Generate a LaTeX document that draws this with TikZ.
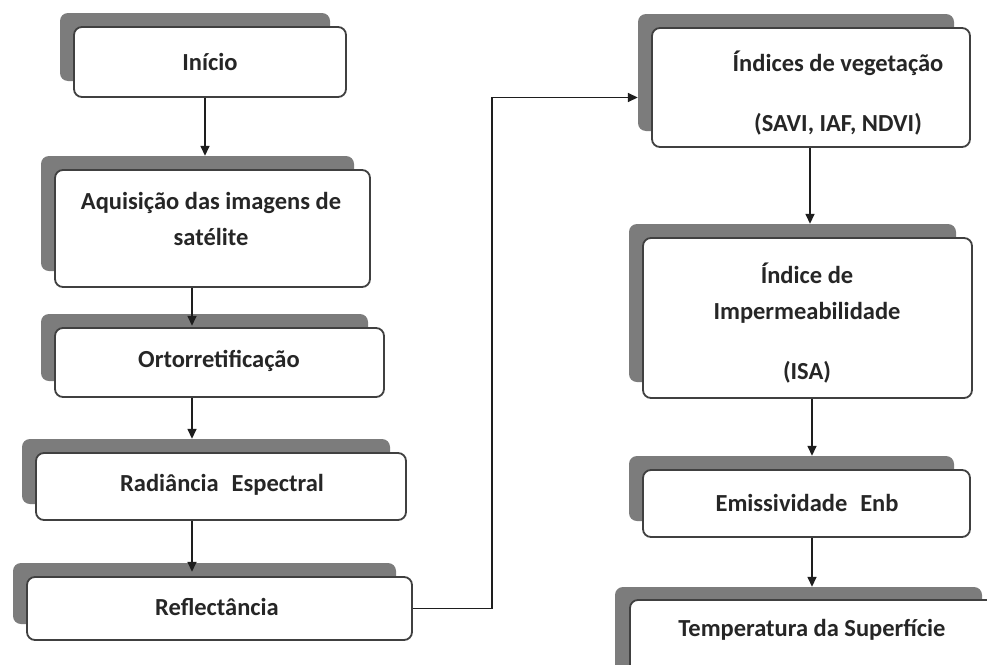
\documentclass[tikz,border=0pt]{standalone}
\usepackage{fontspec}
\setmainfont{Carlito}
\usetikzlibrary{arrows.meta,calc}
\definecolor{bordc}{HTML}{404040}
\definecolor{shadc}{HTML}{7C7C7C}
\definecolor{txtc}{HTML}{262626}
\definecolor{linec}{HTML}{1E1E1E}
\begin{document}
\begin{tikzpicture}[x=1pt,y=-1pt,
  wbox/.style={rectangle,draw=bordc,line width=1.8pt,fill=white,rounded corners=8pt,inner sep=0pt},
  sbox/.style={rectangle,fill=shadc,rounded corners=8pt,inner sep=0pt},
  lbl/.style={text=txtc,font=\fontsize{24.5}{36}\selectfont\bfseries,align=center,inner sep=0pt},
  arr/.style={draw=linec,line width=1.5pt,-{Triangle[length=10pt,width=9pt]}}]
\useasboundingbox (0,0) rectangle (987,664);
\clip (0,0) rectangle (987,664);
\fill[white] (0,0) rectangle (987,664);
% shadows
\node[sbox,minimum width=270pt,minimum height=68pt] (s1) at (195,47) {};
\node[sbox,minimum width=313pt,minimum height=115pt] (s2) at (197.5,213.5) {};
\node[sbox,minimum width=327pt,minimum height=67pt] (s3) at (204.5,347.5) {};
\node[sbox,minimum width=368pt,minimum height=65pt] (s4) at (206,471.5) {};
\node[sbox,minimum width=383pt,minimum height=61pt] (s5) at (204.5,593.5) {};
\node[sbox,minimum width=316pt,minimum height=117pt] (s6) at (796,72.5) {};
\node[sbox,minimum width=327pt,minimum height=158pt] (s7) at (792.5,303) {};
\node[sbox,minimum width=325pt,minimum height=65pt] (s8) at (791.5,488.5) {};
\node[sbox,minimum width=367pt,minimum height=88pt] (s9) at (798.5,631) {};
% boxes
\node[wbox,minimum width=272pt,minimum height=70pt] (b1) at (210,62) {};
\node[wbox,minimum width=315pt,minimum height=117pt] (b2) at (212.5,228.5) {};
\node[wbox,minimum width=329pt,minimum height=69pt] (b3) at (219.5,362.5) {};
\node[wbox,minimum width=370pt,minimum height=67pt] (b4) at (221,486.5) {};
\node[wbox,minimum width=385pt,minimum height=63pt] (b5) at (219.5,608.5) {};
\node[wbox,minimum width=318pt,minimum height=119pt] (b6) at (811,87.5) {};
\node[wbox,minimum width=329pt,minimum height=160pt] (b7) at (807.5,318) {};
\node[wbox,minimum width=327pt,minimum height=67pt] (b8) at (806.5,503.5) {};
\node[wbox,minimum width=380pt,minimum height=90pt] (b9) at (820,645) {};
% texts
\node[lbl] (t1) at (210,62) {Início};
\node[lbl] (t2) at (211,219) {Aquisição das imagens de\\satélite};
\node[lbl] (t3) at (219,361) {Ortorretificação};
\node[lbl] (t4) at (222,485) {Radiância\hspace{0.3em} Espectral};
\node[lbl] (t5) at (217,607) {Reflectância};
\node[lbl] (t6) at (838,93) {Índices de vegetação\\[24pt](SAVI, IAF, NDVI)};
\node[lbl] (t7) at (807,323) {Índice de\\Impermeabilidade\\[24pt](ISA)};
\node[lbl] (t8) at (807,503) {Emissividade\hspace{0.3em} Enb};
\node[lbl] (t9) at (812,630) {Temperatura da Superfície};
% connector columns
\coordinate (c1) at (205,0);
\coordinate (c2) at (192,0);
\coordinate (c3) at (810,0);
\coordinate (c4) at (812,0);
\coordinate (cj) at (492,0);
% arrows
\draw[arr] (b1.south -| c1) -- (s2.north -| c1);
\draw[arr] (b2.south -| c2) -- ($(s3.north -| c2)+(0,12)$);
\draw[arr] (b3.south -| c2) -- (s4.north -| c2);
\draw[arr] (b4.south -| c2) -- ($(s5.north -| c2)+(0,9)$);
\draw[arr] (b5.east) -- (b5.east -| cj) |- ($(s6.west)+(0,25)$);
\draw[arr] (b6.south -| c3) -- (s7.north -| c3);
\draw[arr] (b7.south -| c4) -- (s8.north -| c4);
\draw[arr] (b8.south -| c4) -- (s9.north -| c4);
\end{tikzpicture}
\end{document}
